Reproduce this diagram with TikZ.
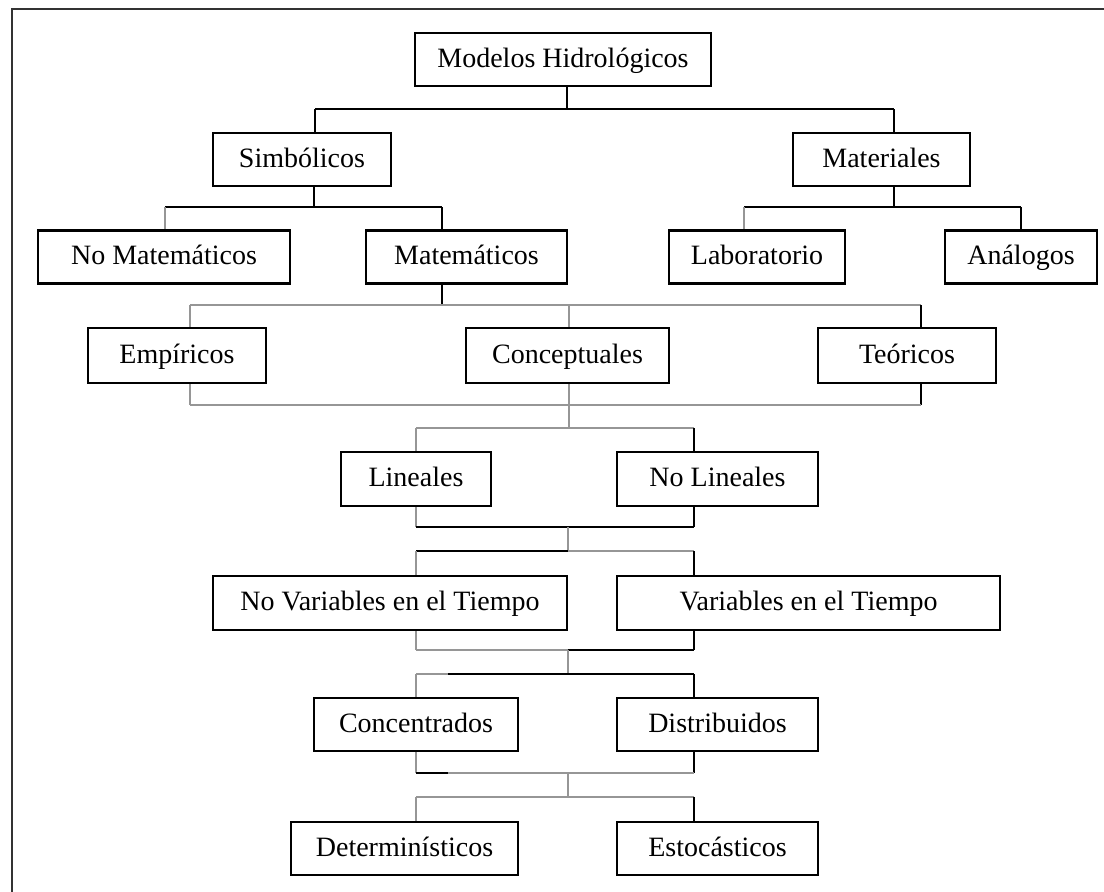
\documentclass[tikz,border=0pt]{standalone}
\usepackage{fontspec}
\setmainfont{Liberation Serif}
\definecolor{linegray}{RGB}{150,150,150}
\tikzset{
  box/.style={draw, line width=2.4pt, inner sep=0pt, minimum height=53pt,
    text height=21pt, text depth=6pt, font=\fontsize{28}{33}\selectfont},
  wire/.style={line width=2pt, black},
  wiregray/.style={line width=2pt, linegray},
}

\begin{document}
\begin{tikzpicture}[x=1pt, y=-1pt]
\useasboundingbox (0,0) rectangle (1104,892);
\draw[line width=2.4pt, black!80] (1104,9) -| (12,892);
\node[box, minimum width=296pt] (modelos) at (563, 59.5){Modelos Hidrológicos};
\node[box, minimum width=178pt] (simb) at (302, 159.5){Simbólicos};
\node[box, minimum width=177pt] (mater) at (881.5, 159.5){Materiales};
\node[box, minimum width=252pt] (nomat) at (164, 257){No Matemáticos};
\node[box, minimum width=201pt] (mate) at (466.5, 257){Matemáticos};
\node[box, minimum width=176pt] (lab) at (757, 257){Laboratorio};
\node[box, minimum width=152pt] (analog) at (1021, 257){Análogos};
\node[box, minimum width=178pt, minimum height=55pt] (empir) at (177, 355.5){Empíricos};
\node[box, minimum width=203pt, minimum height=55pt] (concep) at (567.5, 355.5){Conceptuales};
\node[box, minimum width=178pt, minimum height=55pt] (teor) at (907, 355.5){Teóricos};
\node[box, minimum width=150pt, minimum height=54pt] (lin) at (416, 479){Lineales};
\node[box, minimum width=201pt, minimum height=54pt] (nolin) at (717.5, 479){No Lineales};
\node[box, minimum width=354pt, minimum height=54pt] (novar) at (390, 603){No Variables en el Tiempo};
\node[box, minimum width=383pt, minimum height=54pt] (var) at (808.5, 603){Variables en el Tiempo};
\node[box, minimum width=204pt] (concen) at (416, 724.5){Concentrados};
\node[box, minimum width=201pt] (distr) at (717.5, 724.5){Distribuidos};
\node[box, minimum width=227pt] (determ) at (404.5, 848.5){Determinísticos};
\node[box, minimum width=201pt] (estoc) at (717.5, 848.5){Estocásticos};
% junction points
\coordinate (m1) at (567,109); \coordinate (l1) at (315,109); \coordinate (r1) at (894,109);
\coordinate (m2a) at (314,207); \coordinate (l2a) at (165,207); \coordinate (r2a) at (442,207);
\coordinate (m2b) at (894,207); \coordinate (l2b) at (744,207); \coordinate (r2b) at (1021,207);
\coordinate (m3) at (442,305); \coordinate (l3) at (190,305); \coordinate (c3) at (569,305); \coordinate (r3) at (921,305);
\coordinate (l4) at (190,405); \coordinate (c4) at (569,405); \coordinate (r4) at (921,405);
\coordinate (l5) at (416,428); \coordinate (c5) at (569,428); \coordinate (r5) at (694,428);
\coordinate (l6) at (416,527); \coordinate (c6) at (568,527); \coordinate (r6) at (694,527);
\coordinate (l7) at (416,551); \coordinate (c7) at (568,551); \coordinate (r7) at (694,551);
\coordinate (l8) at (416,650); \coordinate (c8) at (568,650); \coordinate (r8) at (694,650);
\coordinate (l9) at (416,674); \coordinate (k9) at (448,674); \coordinate (c9) at (568,674); \coordinate (r9) at (694,674);
\coordinate (l10) at (416,773); \coordinate (k10) at (448,773); \coordinate (c10) at (568,773); \coordinate (r10) at (694,773);
\coordinate (l11) at (416,797); \coordinate (c11) at (568,797); \coordinate (r11) at (694,797);
% Modelos
\draw[wire] (modelos.south -| m1) -- (m1);
\draw[wire] (l1) -- (r1);
\draw[wire] (l1) -- (l1 |- simb.north);
\draw[wire] (r1) -- (r1 |- mater.north);
% Simbolicos / Materiales
\draw[wire] (simb.south -| m2a) -- (m2a);
\draw[wire] (l2a) -- (r2a);
\draw[wiregray] (l2a) -- (l2a |- nomat.north);
\draw[wire] (r2a) -- (r2a |- mate.north);
\draw[wire] (mater.south -| m2b) -- (m2b);
\draw[wire] (l2b) -- (r2b);
\draw[wiregray] (l2b) -- (l2b |- lab.north);
\draw[wire] (r2b) -- (r2b |- analog.north);
% Matematicos
\draw[wire] (mate.south -| m3) -- (m3);
\draw[wiregray] (l3) -- (r3);
\draw[wiregray] (l3) -- (l3 |- empir.north);
\draw[wiregray] (c3) -- (c3 |- concep.north);
\draw[wire] (r3) -- (r3 |- teor.north);
\draw[wiregray] (empir.south -| l4) -- (l4);
\draw[wiregray] (concep.south -| c4) -- (c5);
\draw[wire] (teor.south -| r4) -- (r4);
\draw[wiregray] (l4) -- (r4);
% Lineales
\draw[wiregray] (l5) -- (r5);
\draw[wiregray] (l5) -- (l5 |- lin.north);
\draw[wire] (r5) -- (r5 |- nolin.north);
\draw[wiregray] (lin.south -| l6) -- (l6);
\draw[wire] (nolin.south -| r6) -- (r6);
\draw[wire] (l6) -- (r6);
\draw[wiregray] (c6) -- (c7);
\draw[wire] (l7) -- (c7);
\draw[wiregray] (c7) -- (r7);
\draw[wiregray] (l7) -- (l7 |- novar.north);
\draw[wire] (r7) -- (r7 |- var.north);
% Variables
\draw[wiregray] (novar.south -| l8) -- (l8);
\draw[wire] (var.south -| r8) -- (r8);
\draw[wiregray] (l8) -- (c8);
\draw[wire] (c8) -- (r8);
\draw[wiregray] (c8) -- (c9);
\draw[wiregray] (l9) -- (k9);
\draw[wire] (k9) -- (r9);
\draw[wiregray] (l9) -- (l9 |- concen.north);
\draw[wire] (r9) -- (r9 |- distr.north);
% Concentrados
\draw[wiregray] (concen.south -| l10) -- (l10);
\draw[wire] (distr.south -| r10) -- (r10);
\draw[wire] (l10) -- (k10);
\draw[wiregray] (k10) -- (r10);
\draw[wiregray] (c10) -- (c11);
\draw[wiregray] (l11) -- (r11);
\draw[wiregray] (l11) -- (l11 |- determ.north);
\draw[wire] (r11) -- (r11 |- estoc.north);
\end{tikzpicture}
\end{document}
